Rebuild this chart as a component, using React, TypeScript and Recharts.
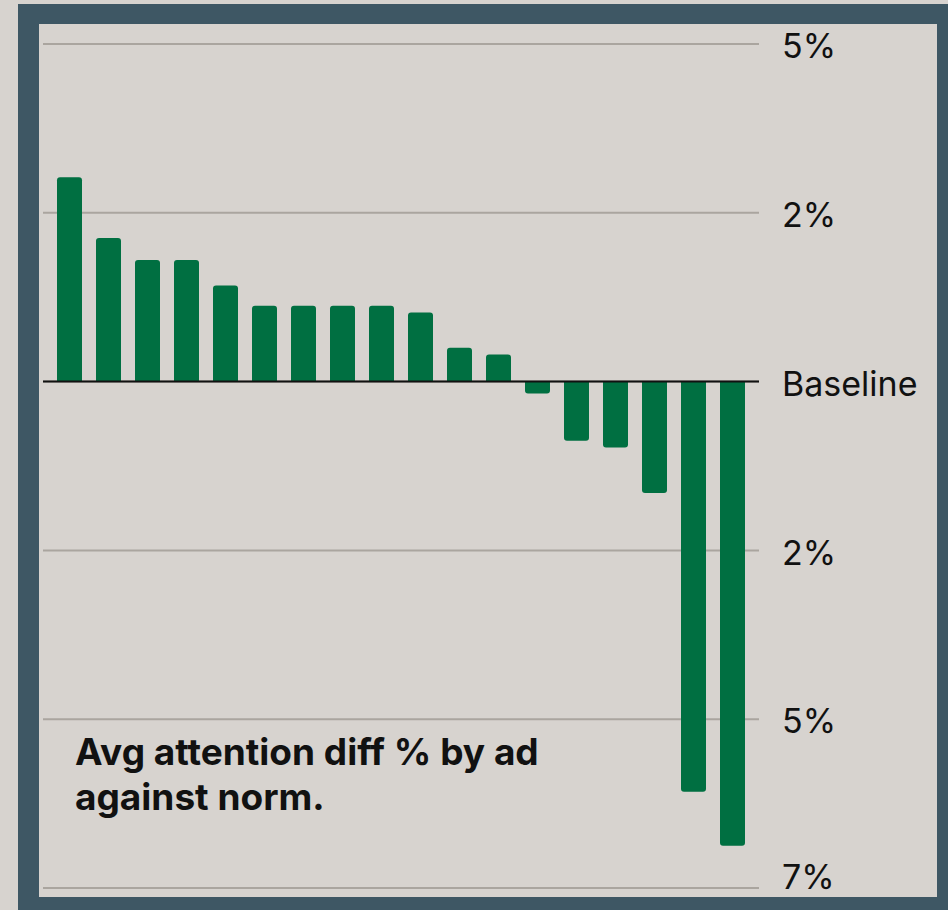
import { BarChart, Bar, XAxis, YAxis, CartesianGrid, ReferenceLine } from 'recharts'

// one entry per ad, ordered from best to worst
const ads = ['A1', 'A2', 'A3', 'A4', 'A5', 'A6', 'A7', 'A8', 'A9', 'A10', 'A11', 'A12', 'A13', 'A14', 'A15', 'A16', 'A17', 'A18']
// difference against the norm, in gridline steps (0 = baseline)
const attentionDiff = [1.21, 0.85, 0.72, 0.72, 0.57, 0.45, 0.45, 0.45, 0.45, 0.41, 0.2, 0.16, -0.07, -0.35, -0.39, -0.66, -2.43, -2.75]

const yTicks = [-3, -2, -1, 0, 1, 2]
const yTickLabels = ['7%', '5%', '2%', 'Baseline', '2%', '5%']

const data = ads.map((ad, i) => ({ ad, diff: attentionDiff[i] }))

const PAGE_BG = '#d7d3cf'
const FRAME = '#3e5764'
const GREEN = '#006f41'

function AxisTick(props: any) {
  const { x, y, payload } = props
  const i = yTicks.indexOf(payload.value)
  // bottom label sits above its line so it stays inside the frame
  const shift = payload.value === yTicks[0] ? -13 : 0
  return (
    <text
      x={x}
      y={y + shift}
      dy="0.42em"
      textAnchor="start"
      fontSize={34}
      fontFamily="Inter"
      fill="#111"
    >
      {yTickLabels[i]}
    </text>
  )
}

export default function App() {
  return (
    <div style={{ position: 'absolute', left: 0, top: 0, width: 948, height: 910, background: PAGE_BG }}>
      <div style={{ position: 'absolute', left: 18, top: 4, width: 930, height: 906, background: FRAME }} />
      <div style={{ position: 'absolute', left: 39, top: 24, width: 898, height: 873, background: PAGE_BG }} />
      <div style={{ position: 'absolute', left: 0, top: 0 }}>
        <BarChart width={948} height={910} data={data} margin={{ top: 44, right: 29, left: 43, bottom: 22 }}>
          <CartesianGrid vertical={false} stroke="#aaa59f" strokeWidth={2} />
          <XAxis dataKey="ad" hide padding={{ left: 7, right: 7 }} />
          <YAxis
            orientation="right"
            domain={[-3, 2]}
            ticks={yTicks}
            interval={0}
            axisLine={false}
            tickLine={false}
            tickSize={0}
            tickMargin={23}
            width={160}
            tick={<AxisTick />}
          />
          <ReferenceLine y={0} stroke="#111" strokeWidth={2} />
          <Bar dataKey="diff" fill={GREEN} barSize={25} radius={[3, 3, 0, 0]} isAnimationActive={false} />
        </BarChart>
      </div>
      <div
        style={{
          position: 'absolute',
          left: 75,
          top: 729,
          fontFamily: 'Inter',
          fontWeight: 700,
          fontSize: 37,
          lineHeight: '45px',
          color: '#111',
        }}
      >
        Avg attention diff % by ad
        <br />
        against norm.
      </div>
    </div>
  )
}
